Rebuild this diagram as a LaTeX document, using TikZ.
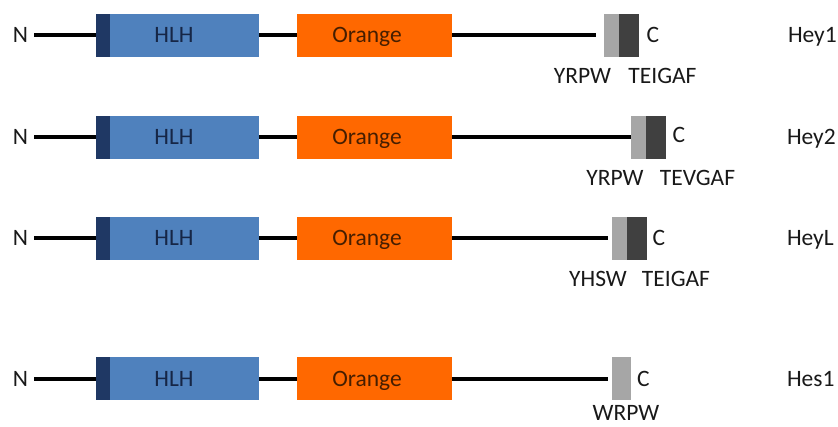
\documentclass[tikz,border=0pt]{standalone}
\usepackage{fontspec}
\setmainfont{Carlito}
\definecolor{hlhblue}{RGB}{79,129,189}
\definecolor{hlhdark}{RGB}{31,56,100}
\definecolor{orangebox}{RGB}{255,104,0}
\definecolor{greylight}{RGB}{166,166,166}
\definecolor{greydark}{RGB}{64,64,64}
\definecolor{hlhtext}{RGB}{22,38,70}
\definecolor{orangetext}{RGB}{70,30,0}
\definecolor{labeltext}{RGB}{25,25,25}
\begin{document}
\begin{tikzpicture}[x=1pt,y=-1pt,
  lbl/.style={font=\fontsize{23.5}{27}\selectfont, inner sep=0pt, outer sep=0pt,
    text height=15pt, text depth=0pt, text=labeltext},
  seg/.style={inner sep=0pt, outer sep=0pt, minimum height=43pt, anchor=west},
  hlhbox/.style={seg, fill=hlhblue, minimum width=163pt},
  stripbox/.style={seg, fill=hlhdark, minimum width=14pt},
  orangeb/.style={seg, fill=orangebox, minimum width=155pt},
  greyl/.style={seg, fill=greylight, minimum width=#1},
  greyd/.style={seg, fill=greydark, minimum width=#1},
  link/.style={line width=4pt, black},
  heylbl/.style={lbl, anchor=west}]
\useasboundingbox (0,0) rectangle (838,427);

% ---------- Row 1: Hey1 ----------
\node[lbl] (n1) at (20.5,35.5) {N};
\node[hlhbox] (h1) at (96,35.5) {};
\node[stripbox] (s1) at (96,35.5) {};
\node[orangeb] (o1) at (297,35.5) {};
\node[lbl, text=hlhtext] (ht1) at (174,35.5) {HLH};
\node[lbl, text=orangetext] (ot1) at (367,35.5) {Orange};
\coordinate (e1) at (596,35.5);
\node[greyl=15pt] (g1) at (604,35.5) {};
\node[greyd=20pt] (d1) at (619,35.5) {};
\node[lbl] (c1) at (653,35.5) {C};
\node[heylbl] (p1) at (788,35.5) {Hey1};
\node[lbl] (m1a) at (582.5,76.5) {YRPW};
\node[lbl] (m1b) at (662.5,76.5) {TEIGAF};
\draw[link, shorten <=6pt] (n1.east) -- (s1.west);
\draw[link] (h1.east) -- (o1.west);
\draw[link] (o1.east) -- (e1);

% ---------- Row 2: Hey2 ----------
\node[lbl] (n2) at (20.5,137.5) {N};
\node[hlhbox] (h2) at (96,137.5) {};
\node[stripbox] (s2) at (96,137.5) {};
\node[orangeb] (o2) at (297,137.5) {};
\node[lbl, text=hlhtext] (ht2) at (174,137.5) {HLH};
\node[lbl, text=orangetext] (ot2) at (367,137.5) {Orange};
\node[greyl=15pt] (g2) at (631,137.5) {};
\node[greyd=20pt] (d2) at (646,137.5) {};
\node[lbl] (c2) at (679,135.5) {C};
\node[heylbl] (p2) at (787,137.5) {Hey2};
\node[lbl] (m2a) at (615,178) {YRPW};
\node[lbl] (m2b) at (697.5,178) {TEVGAF};
\draw[link, shorten <=6pt] (n2.east) -- (s2.west);
\draw[link] (h2.east) -- (o2.west);
\draw[link] (o2.east) -- (g2.west);

% ---------- Row 3: HeyL ----------
\node[lbl] (n3) at (20.5,238.5) {N};
\node[hlhbox] (h3) at (96,238.5) {};
\node[stripbox] (s3) at (96,238.5) {};
\node[orangeb] (o3) at (297,238.5) {};
\node[lbl, text=hlhtext] (ht3) at (174,238.5) {HLH};
\node[lbl, text=orangetext] (ot3) at (367,238.5) {Orange};
\coordinate (e3) at (608,238.5);
\node[greyl=15pt] (g3) at (612,238.5) {};
\node[greyd=20pt] (d3) at (627,238.5) {};
\node[lbl] (c3) at (659,238.5) {C};
\node[heylbl] (p3) at (787,238.5) {HeyL};
\node[lbl] (m3a) at (598,279.5) {YHSW};
\node[lbl] (m3b) at (676,279.5) {TEIGAF};
\draw[link, shorten <=6pt] (n3.east) -- (s3.west);
\draw[link] (h3.east) -- (o3.west);
\draw[link] (o3.east) -- (e3);

% ---------- Row 4: Hes1 ----------
\node[lbl] (n4) at (20.5,379) {N};
\node[hlhbox] (h4) at (96,379) {};
\node[stripbox] (s4) at (96,379) {};
\node[orangeb] (o4) at (297,379) {};
\node[lbl, text=hlhtext] (ht4) at (174,379) {HLH};
\node[lbl, text=orangetext] (ot4) at (367,379) {Orange};
\coordinate (e4) at (608,379);
\node[greyl=19pt] (g4) at (612,379) {};
\node[lbl] (c4) at (643.5,379) {C};
\node[heylbl] (p4) at (787,379) {Hes1};
\node[lbl] (m4) at (626,413) {WRPW};
\draw[link, shorten <=6pt] (n4.east) -- (s4.west);
\draw[link] (h4.east) -- (o4.west);
\draw[link] (o4.east) -- (e4);
\end{tikzpicture}
\end{document}
